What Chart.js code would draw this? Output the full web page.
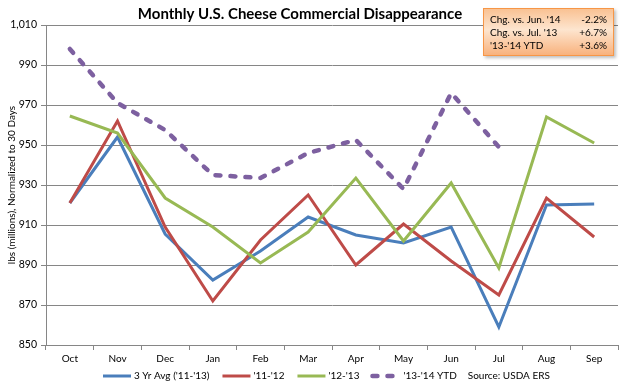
<!DOCTYPE html>
<html>
<head>
<meta charset="utf-8">
<script src="https://cdn.jsdelivr.net/npm/chart.js@4"></script>
<style>
  html, body { margin: 0; padding: 0; background: #fff; }
  #wrap { width: 628px; height: 388px; position: relative; }
</style>
</head>
<body>
<div id="wrap"><canvas id="myChart" width="628" height="388"></canvas></div>
<script>
// categories and series (lbs millions, normalized to 30 days)
const months = ['Oct', 'Nov', 'Dec', 'Jan', 'Feb', 'Mar', 'Apr', 'May', 'Jun', 'Jul', 'Aug', 'Sep'];
const avg3yr = [921, 954, 905.5, 882.5, 897, 914, 905, 901, 909, 859, 920, 920.5];
const y1112 = [921, 962, 909, 872, 902.5, 925, 890, 910.5, 892, 875, 923.5, 904];
const y1213 = [964.5, 956, 923.5, 909, 891, 906.5, 933.5, 902, 931, 888.5, 964, 951];
const ytd1314 = [998, 971, 957.5, 935, 933.5, 946, 952.5, 928, 976, 949, null, null];
const seriesNames = ["3 Yr Avg ('11-'13)", "'11-'12", "'12-'13", "'13-'14 YTD"];
const yMin = 850, yMax = 1010, yStep = 20;

// text box in the corner
const boxRows = [
  ["Chg. vs. Jun. '14", '-2.2%'],
  ["Chg. vs. Jul. '13", '+6.7%'],
  ["'13-'14 YTD", '+3.6%']
];
const chartTitle = 'Monthly U.S. Cheese Commercial Disappearance';
const sourceNote = 'Source: USDA ERS';

const FONT = 'Lato, "Open Sans", sans-serif';
const ctx = document.getElementById('myChart');

// title, summary box and legend drawn on top
const extras = {
  id: 'extras',
  afterDraw(chart) {
    const c = chart.ctx;
    c.save();
    // title
    c.fillStyle = '#000';
    c.font = 'bold 15px ' + FONT;
    c.textAlign = 'center';
    c.textBaseline = 'middle';
    c.fillText(chartTitle, 300, 14);

    // summary box
    const bx = 483, by = 8, bw = 131, bh = 48;
    c.shadowColor = 'rgba(0,0,0,0.25)';
    c.shadowOffsetX = 2;
    c.shadowOffsetY = 2;
    c.shadowBlur = 3;
    const g = c.createLinearGradient(0, by, 0, by + bh);
    g.addColorStop(0, '#f9c090');
    g.addColorStop(0.45, '#fde5cf');
    g.addColorStop(1, '#f8b07a');
    c.fillStyle = g;
    c.fillRect(bx, by, bw, bh);
    c.shadowColor = 'transparent';
    c.strokeStyle = '#f79646';
    c.lineWidth = 1;
    c.strokeRect(bx + 0.5, by + 0.5, bw - 1, bh - 1);
    c.fillStyle = '#000';
    c.font = '10px ' + FONT;
    boxRows.forEach((r, i) => {
      const yy = by + 12 + i * 13;
      c.textAlign = 'left';
      c.fillText(r[0], bx + 7, yy);
      c.textAlign = 'right';
      c.fillText(r[1], bx + bw - 7, yy);
    });

    // legend
    const ly = 376;
    let x = 103;
    c.font = '10px ' + FONT;
    c.textAlign = 'left';
    chart.data.datasets.forEach((ds, i) => {
      c.beginPath();
      c.strokeStyle = ds.borderColor;
      c.lineWidth = ds.borderWidth;
      c.lineCap = ds.borderDash ? 'round' : 'butt';
      c.setLineDash(ds.borderDash || []);
      c.moveTo(x, ly);
      c.lineTo(x + 28, ly);
      c.stroke();
      c.setLineDash([]);
      c.fillStyle = '#000';
      c.fillText(ds.label, x + 31, ly);
      x += 31 + c.measureText(ds.label).width + 13;
    });
    c.fillText(sourceNote, x - 2, ly);
    c.restore();
  }
};

new Chart(ctx, {
  type: 'line',
  data: {
    labels: months,
    datasets: [{
      label: seriesNames[0],
      data: avg3yr,
      borderColor: '#4a7ebb',
      borderWidth: 3,
      order: 4
    }, {
      label: seriesNames[1],
      data: y1112,
      borderColor: '#be4b48',
      borderWidth: 3,
      order: 3
    }, {
      label: seriesNames[2],
      data: y1213,
      borderColor: '#98b954',
      borderWidth: 3,
      order: 2
    }, {
      label: seriesNames[3],
      data: ytd1314,
      borderColor: '#7d60a0',
      borderWidth: 4.5,
      borderDash: [5, 10],
      borderCapStyle: 'round',
      order: 1
    }]
  },
  options: {
    responsive: false,
    animation: false,
    events: [],
    elements: {
      point: { radius: 0 },
      line: { tension: 0, fill: false }
    },
    layout: { padding: { top: 25, right: 10, left: 0, bottom: 0 } },
    plugins: {
      legend: { display: false },
      title: { display: false },
      tooltip: { enabled: false }
    },
    scales: {
      x: {
        offset: true,
        grid: {
          offset: true,
          drawOnChartArea: false,
          drawTicks: true,
          tickLength: 5,
          color: '#868686'
        },
        border: { color: '#868686', width: 1 },
        ticks: {
          color: '#000',
          font: { family: FONT, size: 10 },
          padding: 3,
          maxRotation: 0
        },
        afterFit(s) { s.height = 43; }
      },
      y: {
        min: yMin,
        max: yMax,
        grid: {
          color: '#868686',
          tickLength: 5
        },
        border: { color: '#868686', width: 1 },
        ticks: {
          stepSize: yStep,
          color: '#000',
          font: { family: FONT, size: 10.5 },
          padding: 4,
          callback: v => v.toLocaleString('en-US')
        },
        title: {
          display: true,
          text: 'lbs (millions), Normalized to 30 Days',
          color: '#000',
          font: { family: FONT, size: 10 },
          padding: { top: 6, bottom: 0 }
        },
        afterFit(s) { s.width = 46; }
      }
    }
  },
  plugins: [extras]
});
</script>
</body>
</html>
